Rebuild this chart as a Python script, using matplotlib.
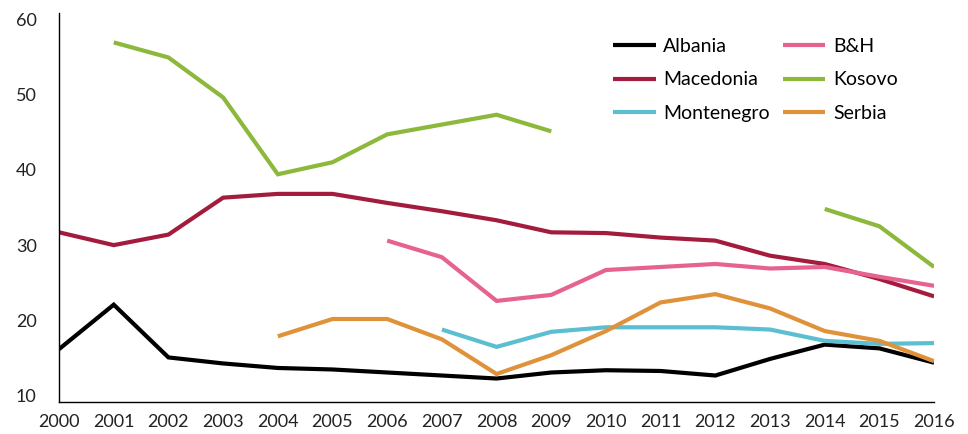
import matplotlib

matplotlib.use("Agg")
import matplotlib.pyplot as plt
import numpy as np

plt.rcParams["font.family"] = ["Lato", "DejaVu Sans"]

years = list(range(2000, 2017))
nan = np.nan

albania = [16.2, 22.1, 15.1, 14.3, 13.7, 13.5, 13.1, 12.7, 12.3, 13.1, 13.4, 13.3, 12.7, 14.9, 16.8, 16.3, 14.4]
macedonia = [31.7, 30.0, 31.4, 36.3, 36.8, 36.8, 35.6, 34.5, 33.3, 31.7, 31.6, 31.0, 30.6, 28.6, 27.5, 25.5, 23.2]
montenegro = [nan, nan, nan, nan, nan, nan, nan, 18.8, 16.5, 18.5, 19.1, 19.1, 19.1, 18.8, 17.3, 16.9, 17.0]
bih = [nan, nan, nan, nan, nan, nan, 30.6, 28.4, 22.6, 23.4, 26.7, 27.1, 27.5, 26.9, 27.1, 25.8, 24.6]
kosovo = [nan, 56.9, 54.9, 49.6, 39.4, 41.0, 44.7, 46.0, 47.3, 45.1, nan, nan, nan, nan, 34.8, 32.5, 27.1]
serbia = [nan, nan, nan, nan, 17.9, 20.2, 20.2, 17.5, 12.9, 15.4, 18.6, 22.4, 23.5, 21.6, 18.6, 17.3, 14.6]

series = [
    ("Albania", albania, "#000000"),
    ("Macedonia", macedonia, "#A31C3E"),
    ("Montenegro", montenegro, "#5BBFD1"),
    ("B&H", bih, "#E6628F"),
    ("Kosovo", kosovo, "#8CB83C"),
    ("Serbia", serbia, "#E0923A"),
]

fig = plt.figure(figsize=(9.68, 4.34), dpi=100)
ax = fig.add_axes([0.061, 0.074, 0.904, 0.896])

for name, values, color in series:
    ax.plot(years, values, color=color, lw=3.0, label=name, solid_capstyle="butt", solid_joinstyle="miter")

ax.set_xlim(2000, 2016)
ax.set_ylim(9.2, 60.8)
ax.set_xticks(years)
ax.set_yticks([10, 20, 30, 40, 50, 60])
ax.tick_params(length=0, labelsize=13, colors="#222222", pad=9)
ax.tick_params(axis="y", pad=31)
for label in ax.get_yticklabels():
    label.set_horizontalalignment("left")
ax.spines["top"].set_visible(False)
ax.spines["right"].set_visible(False)
ax.spines["left"].set_linewidth(1.0)
ax.spines["bottom"].set_linewidth(1.0)

ax.legend(
    loc="upper left",
    bbox_to_anchor=(0.615, 0.953),
    bbox_transform=fig.transFigure,
    ncol=2,
    frameon=False,
    fontsize=14,
    handlelength=2.2,
    handletextpad=0.4,
    columnspacing=0.65,
    labelspacing=0.85,
)

fig.savefig("out.png", dpi=100)
